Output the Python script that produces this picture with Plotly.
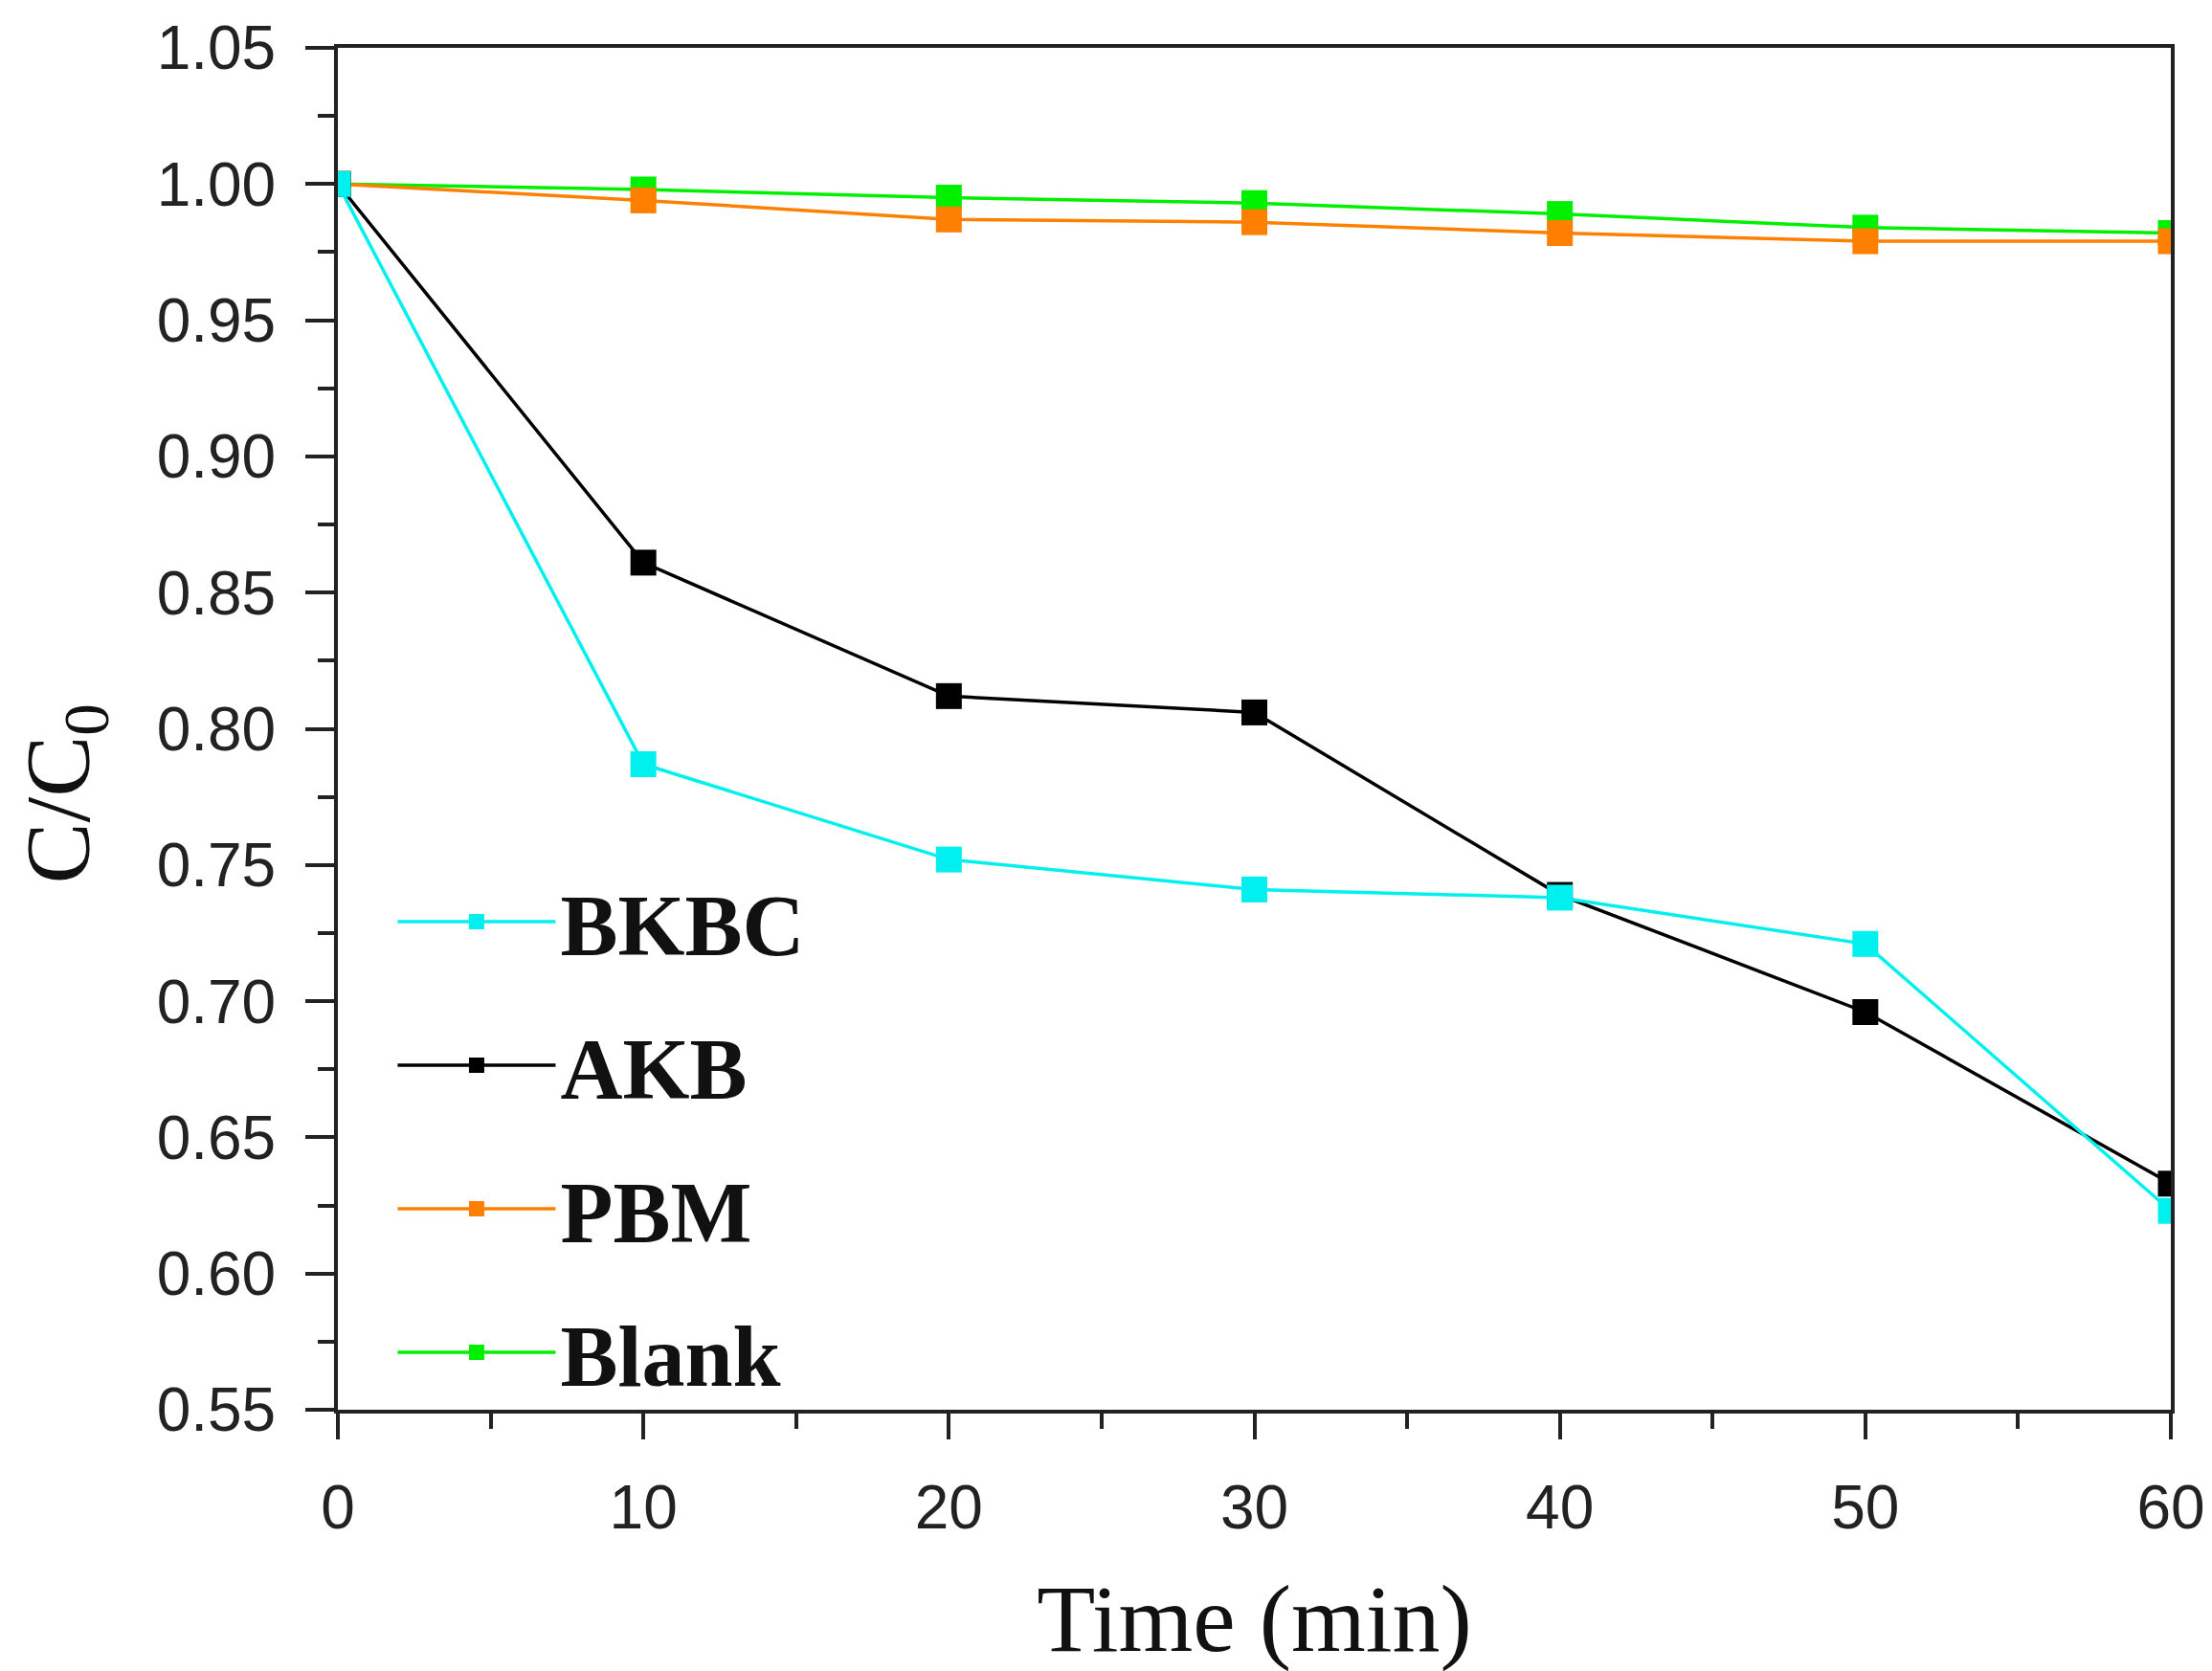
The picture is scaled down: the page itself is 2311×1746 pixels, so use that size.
import plotly.graph_objects as go

# C/C0 vs time
TIME = [0, 10, 20, 30, 40, 50, 60]
BKBC = [1.000, 0.787, 0.752, 0.741, 0.738, 0.721, 0.623]
AKB = [1.000, 0.861, 0.812, 0.806, 0.739, 0.696, 0.633]
PBM = [1.000, 0.994, 0.987, 0.986, 0.982, 0.979, 0.979]
BLANK = [1.000, 0.998, 0.995, 0.993, 0.989, 0.984, 0.982]

# drawn back to front: Blank, PBM, AKB, BKBC ; legend order by rank
SERIES = [
    ("Blank", BLANK, "#00F000", 4),
    ("PBM", PBM, "#FF8000", 3),
    ("AKB", AKB, "#000000", 2),
    ("BKBC", BKBC, "#00F0F0", 1),
]

SERIF = "Liberation Serif, Times New Roman, serif"
SANS = "Liberation Sans, Arial, sans-serif"

fig = go.Figure()

for name, vals, color, rank in SERIES:
    fig.add_trace(go.Scatter(
        x=TIME, y=vals,
        mode='lines+markers',
        name=name,
        legendgroup=name,
        legendrank=rank,
        line=dict(color=color, width=3.5),
        marker=dict(symbol='square', size=27, color=color),
    ))

axis_common = dict(
    showline=True, linecolor='#222', linewidth=4, mirror=True,
    ticks='outside', tickwidth=4, tickcolor='#222',
    tickfont=dict(family=SANS, size=64, color='#222'),
    showgrid=False, zeroline=False, automargin=False,
)

fig.update_xaxes(
    range=[0, 60], dtick=10, ticklen=27,
    minor=dict(dtick=5, ticks='outside', ticklen=16, tickwidth=4, tickcolor='#222'),
    ticklabelstandoff=16,
    title=dict(text='Time (min)', font=dict(family=SERIF, size=100, color='#111'), standoff=46),
    **axis_common
)
fig.update_yaxes(
    range=[0.55, 1.05], dtick=0.05, tickformat='.2f', ticklen=30,
    minor=dict(dtick=0.025, ticks='outside', ticklen=17, tickwidth=4, tickcolor='#222'),
    ticklabelstandoff=18,
    **axis_common
)

# y title placed by hand: in the original it sits below the axis centre
fig.add_annotation(
    text='C/C<sub>0</sub>', textangle=-90,
    xref='paper', yref='paper', x=-0.149, y=0.452,
    xanchor='center', yanchor='middle',
    showarrow=False,
    font=dict(family=SERIF, size=96, color='#111'),
)

fig.update_layout(
    width=2311, height=1746,
    margin=dict(l=345, r=51, t=42, b=281),
    plot_bgcolor='white', paper_bgcolor='white',
    showlegend=True,
    legend=dict(
        x=0.03, y=0.404, xanchor='left', yanchor='top',
        bgcolor='rgba(0,0,0,0)',
        font=dict(family=SERIF, size=90, color='#111', weight='bold'),
        tracegroupgap=30,
        itemwidth=165,
    ),
)

fig.write_html("out.html")
